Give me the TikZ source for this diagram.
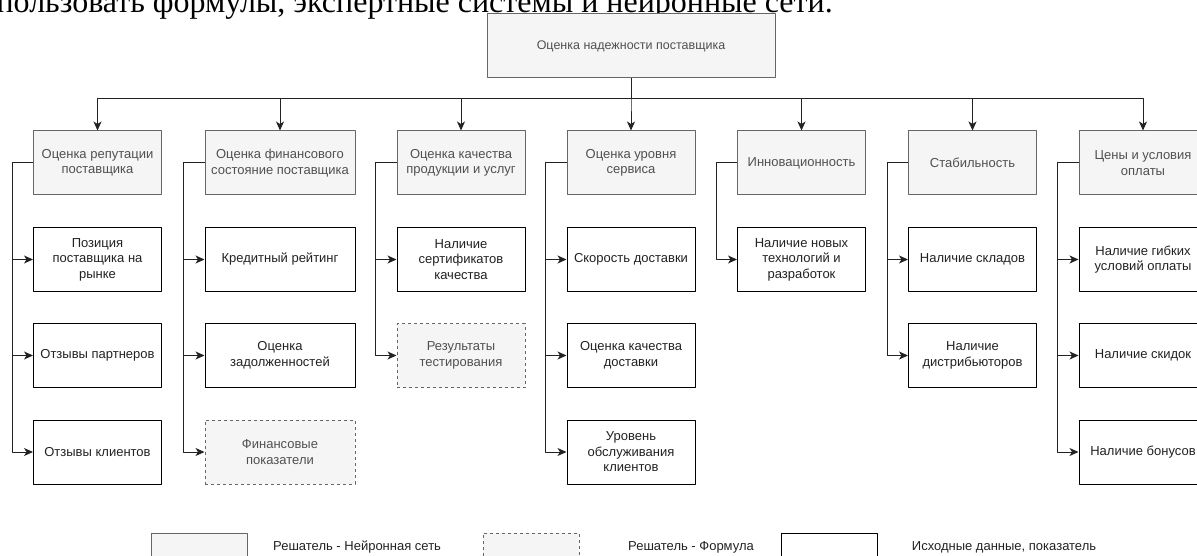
\documentclass[tikz,border=0pt]{standalone}
\usepackage{fontspec}
\setmainfont{Liberation Sans}
\newfontfamily\serifline{Liberation Serif}
\usetikzlibrary{arrows.meta}

\definecolor{boxgray}{HTML}{F5F5F5}
\definecolor{edgegray}{HTML}{666666}
\definecolor{txtgray}{HTML}{505050}
\definecolor{inkblack}{HTML}{222222}

\begin{document}
\begin{tikzpicture}[x=1pt, y=-1pt, line join=round,
  every node/.style={font=\fontsize{13}{15.5}\selectfont, align=center, inner sep=0pt},
  hdr/.style={draw=edgegray, fill=boxgray, text=txtgray, line width=1pt,
    minimum width=128pt, minimum height=64pt},
  leaf/.style={draw=black, fill=white, text=inkblack, line width=1pt,
    minimum width=128pt, minimum height=64pt},
  solver/.style={hdr, dashed},
  link/.style={draw=inkblack, line width=1pt, -{Stealth[length=9pt,width=8pt,inset=2.5pt]}}]
\useasboundingbox (0,0) rectangle (1197,556);
\clip (0,0) rectangle (1197,556);

% line of the text above the figure
\node[font=\serifline\fontsize{32}{36}\selectfont, anchor=base east, text=black] (intro)
  at (833,13) {пользовать формулы, экспертные системы и нейронные сети.};

% root
\node[hdr, minimum width=288pt, minimum height=64pt, font=\fontsize{12.5}{15}\selectfont] (top) at (631,46) {Оценка надежности поставщика};

% criteria
\node[hdr] (h1) at (97.5,163) {Оценка репутации\\поставщика};
\node[hdr, minimum width=150pt] (h2) at (280,163) {Оценка финансового\\состояние поставщика};
\node[hdr] (h3) at (461,163) {Оценка качества\\продукции и услуг};
\node[hdr] (h4) at (631,163) {Оценка уровня\\сервиса};
\node[hdr] (h5) at (801.5,163) {Инновационность};
\node[hdr] (h6) at (972.5,163) {Стабильность};
\node[hdr] (h7) at (1143,163) {Цены и условия\\оплаты};

% indicators
\node[leaf] (c11) at (97.5,259.5) {Позиция\\поставщика на\\рынке};
\node[leaf] (c12) at (97.5,355.5) {Отзывы партнеров};
\node[leaf] (c13) at (97.5,452) {Отзывы клиентов};
\node[leaf, minimum width=150pt] (c21) at (280,259.5) {Кредитный рейтинг};
\node[leaf, minimum width=150pt] (c22) at (280,355.5) {Оценка\\задолженностей};
\node[solver, minimum width=150pt] (c23) at (280,452) {Финансовые\\показатели};
\node[leaf] (c31) at (461,259.5) {Наличие\\сертификатов\\качества};
\node[solver] (c32) at (461,355.5) {Результаты\\тестирования};
\node[leaf] (c41) at (631,259.5) {Скорость доставки};
\node[leaf] (c42) at (631,355.5) {Оценка качества\\доставки};
\node[leaf] (c43) at (631,452) {Уровень\\обслуживания\\клиентов};
\node[leaf] (c51) at (801.5,259.5) {Наличие новых\\технологий и\\разработок};
\node[leaf] (c61) at (972.5,259.5) {Наличие складов};
\node[leaf] (c62) at (972.5,355.5) {Наличие\\дистрибьюторов};
\node[leaf] (c71) at (1143,259.5) {Наличие гибких\\условий оплаты};
\node[leaf] (c72) at (1143,355.5) {Наличие скидок};
\node[leaf] (c73) at (1143,452) {Наличие бонусов};

% connectors
\foreach \i in {1,...,7}
  \draw[link] (top.south) -- ++(0,20.5) -| (h\i.north);
\foreach \h/\c in {1/11,1/12,1/13,2/21,2/22,2/23,3/31,3/32,4/41,4/42,4/43,5/51,6/61,6/62,7/71,7/72,7/73}
  \draw[link] (h\h.west) -- ++(-21,0) |- (c\c.west);

% legend
\node[hdr, minimum width=96pt, minimum height=40pt] (legnn) at (199,553) {};
\node[anchor=west, text=inkblack] (legnntxt) at (273,547) {Решатель - Нейронная сеть};
\node[solver, minimum width=96pt, minimum height=40pt] (legf) at (531,553) {};
\node[anchor=west, text=inkblack] (legftxt) at (628,547) {Решатель - Формула};
\node[leaf, minimum width=96pt, minimum height=40pt] (legd) at (829.7,553) {};
\node[anchor=west, text=inkblack] (legdtxt) at (911.7,547) {Исходные данные, показатель};
\end{tikzpicture}
\end{document}
